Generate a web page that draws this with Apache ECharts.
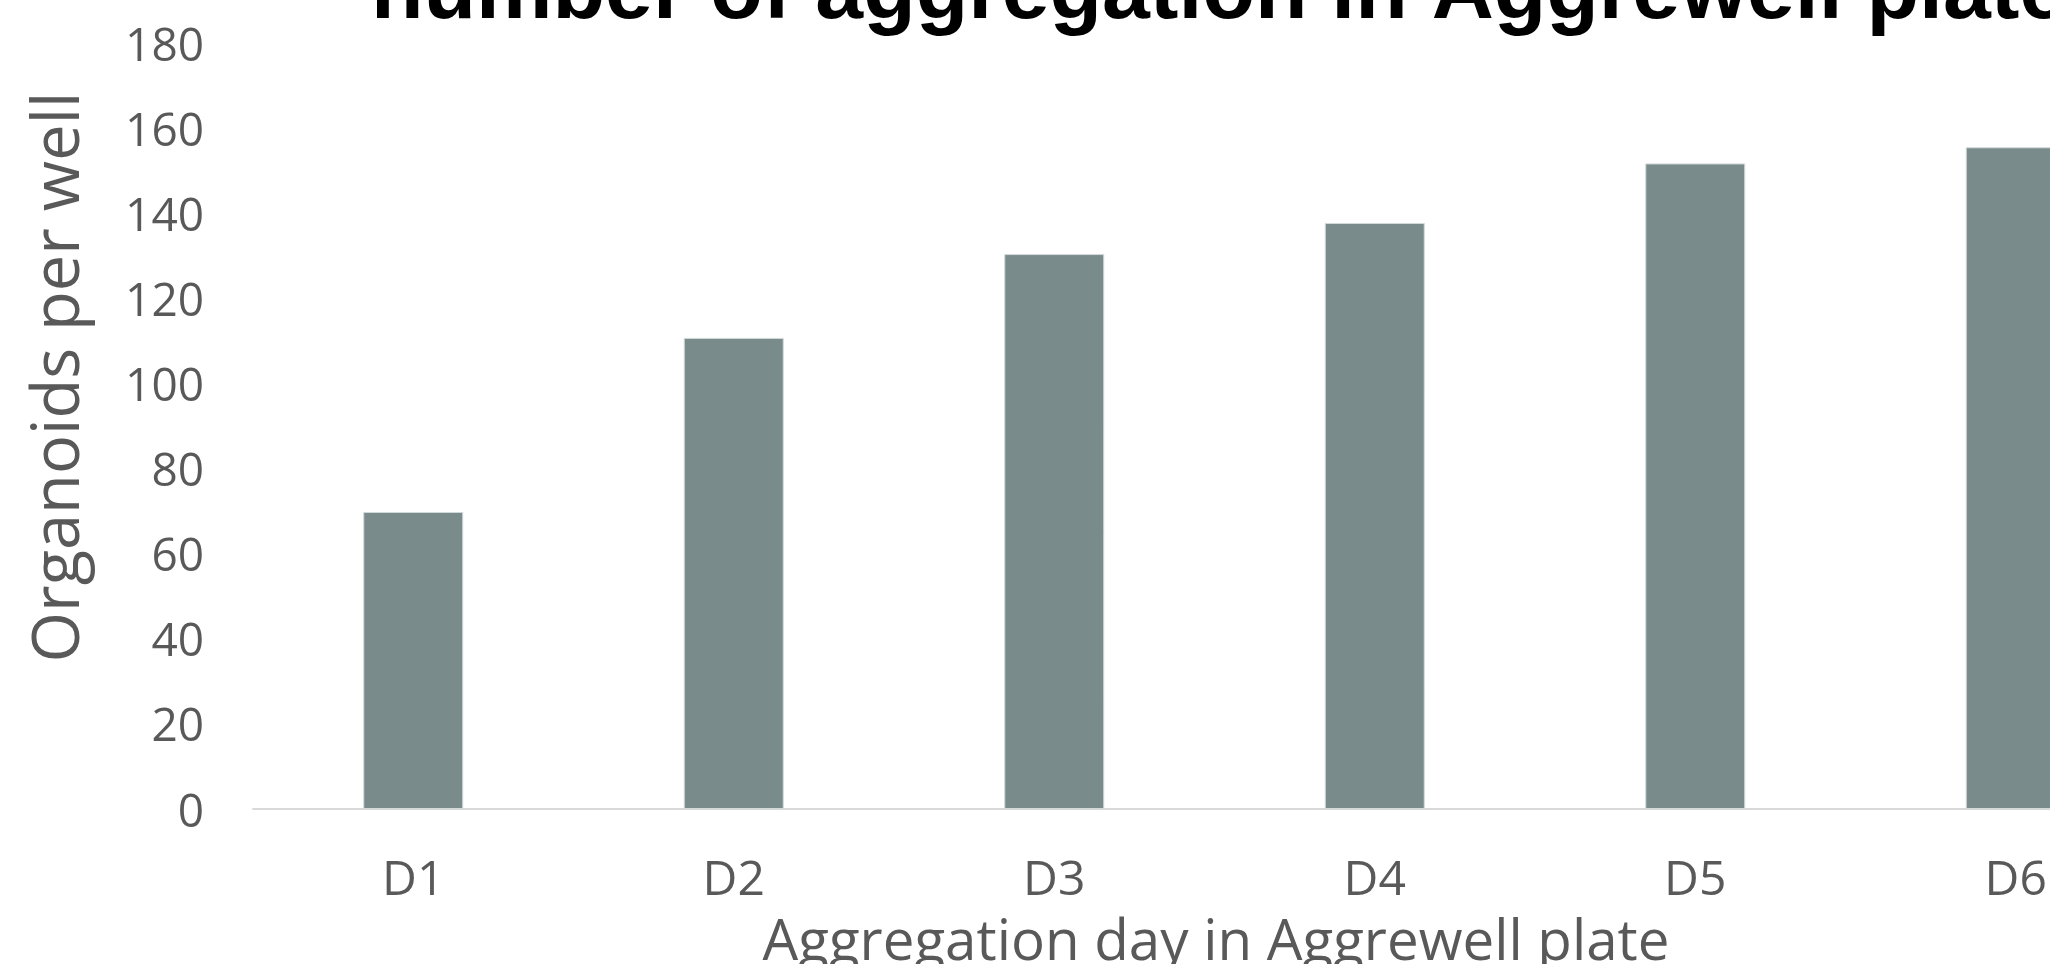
<!DOCTYPE html>
<html>
<head>
<meta charset="utf-8">
<script src="https://cdn.jsdelivr.net/npm/echarts@6/dist/echarts.min.js"></script>
<style>
html,body{margin:0;padding:0;background:#fff;}
#chart{width:2050px;height:964px;}
</style>
</head>
<body>
<div id="chart"></div>
<script>
const categories = ['D1', 'D2', 'D3', 'D4', 'D5', 'D6'];
const organoids = [69.8, 110.7, 130.4, 137.7, 151.7, 155.5];
const yTicks = { min: 0, max: 180, interval: 20 };
const titleText = 'number of aggregation in Aggrewell plate';
const xTitle = 'Aggregation day in Aggrewell plate';
const yTitle = 'Organoids per well';

const chart = echarts.init(document.getElementById('chart'));
chart.setOption({
  backgroundColor: '#ffffff',
  animation: false,
  grid: { left: 253, top: 43, bottom: 155, right: -126, outerBoundsMode: 'none', containLabel: false },
  xAxis: {
    type: 'category',
    data: categories,
    axisTick: { show: false },
    axisLine: { lineStyle: { color: '#d9d9d9', width: 2 } },
    axisLabel: { color: '#595959', fontFamily: 'Open Sans', fontSize: 48, margin: 48 }
  },
  yAxis: {
    type: 'value',
    min: yTicks.min, max: yTicks.max, interval: yTicks.interval,
    splitLine: { show: false },
    axisLine: { show: false },
    axisTick: { show: false },
    axisLabel: {
      color: '#595959', fontFamily: 'Open Sans', fontSize: 46, margin: 49,
      formatter: '{v|{value}}',
      rich: { v: { color: '#595959', fontFamily: 'Open Sans', fontSize: 46, padding: [9, 0, 0, 0] } }
    }
  },
  series: [{
    type: 'bar',
    data: organoids,
    barWidth: '31.2%',
    itemStyle: { color: '#7a8b8c', borderColor: '#d3d9d9', borderWidth: 1 }
  }],
  graphic: [
    {
      type: 'text', x: 371, y: -6,
      style: { text: titleText, fill: '#000000', font: 'bold 86px "Liberation Sans", Arial, sans-serif', textAlign: 'left', textVerticalAlign: 'middle', verticalAlign: 'middle' }
    },
    {
      type: 'text', x: 1216, y: 944,
      style: { text: xTitle, fill: '#595959', font: '56.5px "Open Sans", sans-serif', textAlign: 'center', textVerticalAlign: 'middle', verticalAlign: 'middle' }
    },
    {
      type: 'text', x: 60, y: 377, rotation: Math.PI / 2,
      style: { text: yTitle, fill: '#595959', font: '65px "Open Sans", sans-serif', textAlign: 'center', textVerticalAlign: 'middle', verticalAlign: 'middle' }
    }
  ]
});
</script>
</body>
</html>
